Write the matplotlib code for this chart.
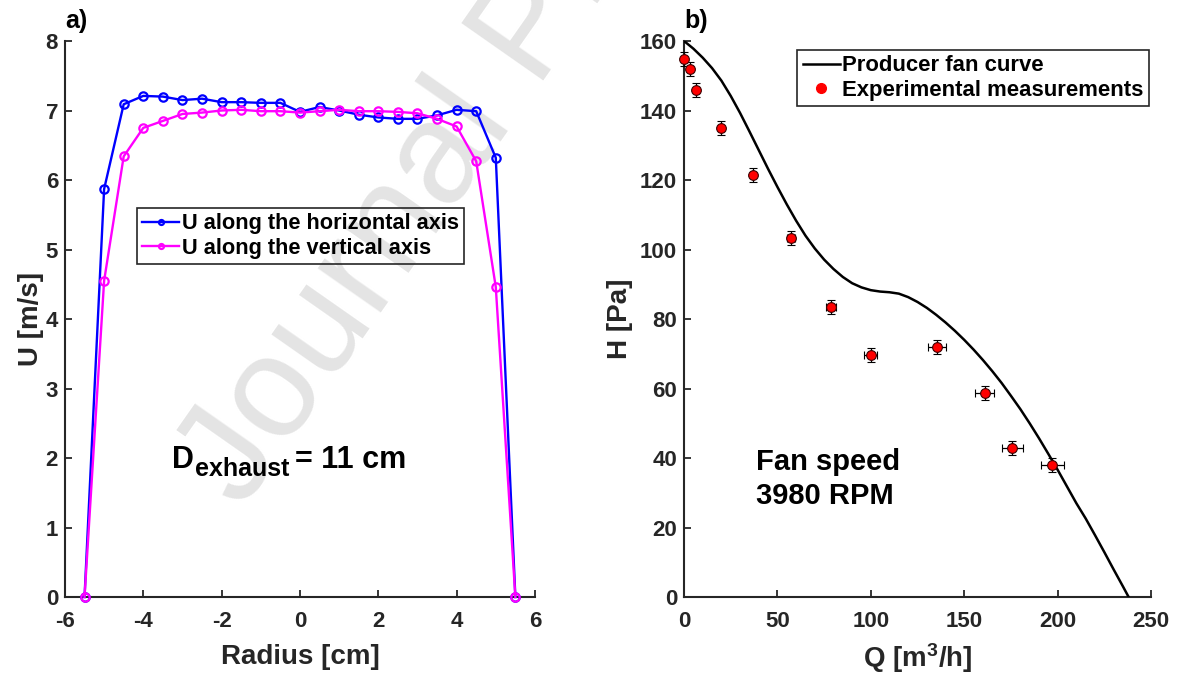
import matplotlib as mpl
mpl.use('Agg')
import matplotlib.pyplot as plt
from matplotlib.lines import Line2D

plt.rcParams['font.family'] = ['Liberation Sans', 'DejaVu Sans']
plt.rcParams['font.weight'] = 'bold'
plt.rcParams['axes.unicode_minus'] = False
plt.rcParams['mathtext.fontset'] = 'custom'
plt.rcParams['mathtext.rm'] = 'Liberation Sans:bold'
plt.rcParams['mathtext.bf'] = 'Liberation Sans:bold'
plt.rcParams['mathtext.it'] = 'Liberation Sans:bold'

# panel a) velocity profile
radius = [-5.5, -5.0, -4.5, -4.0, -3.5, -3.0, -2.5, -2.0, -1.5, -1.0, -0.5, 0.0,
          0.5, 1.0, 1.5, 2.0, 2.5, 3.0, 3.5, 4.0, 4.5, 5.0, 5.5]
u_horizontal = [0.0, 5.87, 7.09, 7.21, 7.20, 7.15, 7.17, 7.12, 7.12, 7.11, 7.11, 6.98,
                7.05, 7.00, 6.94, 6.90, 6.88, 6.88, 6.93, 7.01, 6.99, 6.32, 0.0]
u_vertical = [0.0, 4.55, 6.34, 6.75, 6.85, 6.95, 6.97, 7.00, 7.01, 6.99, 6.99, 6.97,
              6.99, 7.01, 6.99, 6.99, 6.98, 6.96, 6.88, 6.77, 6.27, 4.46, 0.0]

# panel b) fan curve and measurements
q_curve = [0, 5, 10, 15, 20, 25, 30, 35, 40, 45, 50, 55, 60, 65, 70, 75, 80, 85, 90,
           95, 100, 105, 110, 115, 120, 125, 130, 135, 140, 145, 150, 155, 160, 165,
           170, 175, 180, 185, 190, 195, 200, 205, 210, 215, 220, 225, 230, 235, 238]
h_curve = [160.0, 157.8, 155.2, 152.2, 148.6, 144.2, 139.3, 134.0, 128.6, 123.2,
           118.0, 113.0, 108.3, 104.0, 100.3, 97.1, 94.4, 92.1, 90.3, 89.1, 88.3,
           87.9, 87.7, 87.3, 86.3, 84.9, 83.2, 81.2, 79.0, 76.6, 74.0, 71.2, 68.2,
           65.0, 61.6, 57.9, 54.1, 50.0, 45.7, 41.2, 36.6, 31.8, 27.0, 22.6, 17.8,
           12.9, 7.9, 3.0, 0.0]
q_meas = [0.0, 3.1, 6.3, 19.6, 37.1, 57.3, 78.7, 99.9, 135.4, 160.9, 175.8, 197.2]
h_meas = [154.7, 151.9, 145.9, 135.0, 121.4, 103.2, 83.5, 69.6, 71.9, 58.6, 43.0, 37.9]
q_err = [0.0, 0.1, 0.2, 0.6, 1.1, 2.2, 2.9, 3.6, 4.6, 5.2, 5.8, 6.3]
h_err = [2.0, 2.0, 2.0, 2.0, 2.0, 2.0, 2.0, 2.0, 2.0, 2.0, 2.0, 2.0]

axis_color = '#262626'

fig = plt.figure(figsize=(11.83, 6.81), dpi=100)
renderer = fig.canvas.get_renderer()

# watermark, kept behind the axes
fig.text(0.205, 0.25, 'Journal Pre-proof', fontsize=104, fontweight='normal',
         color='#e4e4e4', rotation=55, rotation_mode='anchor',
         ha='left', va='baseline', zorder=-5)


def style_axes(ax):
    ax.set_facecolor('none')
    for side in ['top', 'right']:
        ax.spines[side].set_visible(False)
    for side in ['left', 'bottom']:
        ax.spines[side].set_color(axis_color)
        ax.spines[side].set_linewidth(1.5)
    ax.tick_params(direction='in', length=5, width=1.3, color=axis_color,
                   labelsize=16, labelcolor=axis_color)
    ax.tick_params(axis='x', pad=10)
    ax.tick_params(axis='y', pad=5)
    for lab in ax.get_xticklabels() + ax.get_yticklabels():
        lab.set_fontweight('bold')


ax1 = fig.add_axes([0.0549, 0.1233, 0.3973, 0.8165])
ax1.plot(radius, u_horizontal, '-o', color='blue', lw=1.7, ms=6, mew=1.6,
         mfc='none', clip_on=False, zorder=3, label='U along the horizontal axis')
ax1.plot(radius, u_vertical, '-o', color='magenta', lw=1.7, ms=6, mew=1.6,
         mfc='none', clip_on=False, zorder=4, label='U along the vertical axis')
ax1.set_xlim(-6, 6)
ax1.set_ylim(0, 8)
ax1.set_xticks([-6, -4, -2, 0, 2, 4, 6])
ax1.set_yticks(range(0, 9))
style_axes(ax1)
ax1.set_xlabel('Radius [cm]', fontsize=20, fontweight='bold', color=axis_color, labelpad=9)
ax1.set_ylabel('U [m/s]', fontsize=20, fontweight='bold', color=axis_color, labelpad=1)
leg1 = ax1.legend(loc='upper left', bbox_to_anchor=(0.153, 0.70), borderaxespad=0,
                  fontsize=15.7, handlelength=1.7, handletextpad=0.1, labelspacing=0.15,
                  borderpad=0.25, markerscale=0.6, fancybox=False, framealpha=1,
                  edgecolor=axis_color, facecolor='none')
leg1.get_frame().set_linewidth(1.2)

# D_exhaust = 11 cm, built from three pieces so the subscript can be sized freely
x0, y0 = 0.228, 0.232
t_d = ax1.text(x0, y0, 'D', transform=ax1.transAxes, fontsize=22,
               fontweight='bold', ha='left', va='baseline')
w_d = t_d.get_window_extent(renderer).width * 0.72
t_sub = ax1.annotate('exhaust', xy=(x0, y0), xycoords='axes fraction',
                     xytext=(w_d + 0.5, -6), textcoords='offset points',
                     fontsize=18, fontweight='bold', ha='left', va='baseline')
w_sub = t_sub.get_window_extent(renderer).width * 0.72
ax1.annotate('= 11 cm', xy=(x0, y0), xycoords='axes fraction',
             xytext=(w_d + w_sub + 4.5, 0), textcoords='offset points',
             fontsize=22, fontweight='bold', ha='left', va='baseline')

ax1.text(0.0, 1.015, 'a)', transform=ax1.transAxes, fontsize=18, fontweight='bold',
         ha='left', va='bottom')

ax2 = fig.add_axes([0.5782, 0.1233, 0.3948, 0.8165])
ax2.plot(q_curve, h_curve, color='black', lw=1.8, zorder=3)
ax2.errorbar(q_meas, h_meas, xerr=q_err, yerr=h_err, fmt='o', color='black',
             ecolor='black', elinewidth=0.9, capsize=3, capthick=0.9,
             mfc='red', mec='#3a0000', ms=7, mew=0.8, zorder=4, clip_on=False)
ax2.set_xlim(0, 250)
ax2.set_ylim(0, 160)
ax2.set_xticks(range(0, 251, 50))
ax2.set_yticks(range(0, 161, 20))
style_axes(ax2)
ax2.set_xlabel(r'Q [m$^\mathbf{3}$/h]', fontsize=20, fontweight='bold',
               color=axis_color, labelpad=7)
ax2.set_ylabel('H [Pa]', fontsize=20, fontweight='bold', color=axis_color, labelpad=5)
handles = [Line2D([], [], color='black', lw=1.8),
           Line2D([], [], ls='none', marker='o', mfc='red', mec='red', ms=7)]
leg2 = ax2.legend(handles, ['Producer fan curve', 'Experimental measurements'],
                  loc='upper left', bbox_to_anchor=(0.242, 0.984), borderaxespad=0,
                  fontsize=15.9, handlelength=1.7, handletextpad=0.1, labelspacing=0.15,
                  borderpad=0.25, fancybox=False, framealpha=1,
                  edgecolor=axis_color, facecolor='none')
leg2.get_frame().set_linewidth(1.2)
ax2.text(0.155, 0.212, 'Fan speed\n3980 RPM', transform=ax2.transAxes,
         fontsize=21, fontweight='bold', ha='left', va='center', linespacing=1.3)
ax2.text(0.0, 1.015, 'b)', transform=ax2.transAxes, fontsize=18, fontweight='bold',
         ha='left', va='bottom')

fig.savefig('out.png', dpi=100)
